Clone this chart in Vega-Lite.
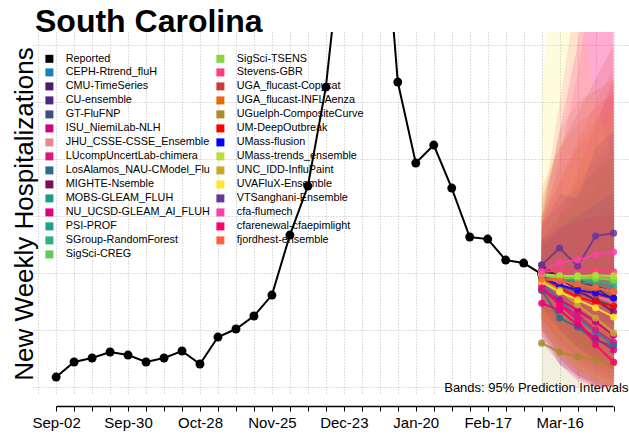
{
  "$schema": "https://vega.github.io/schema/vega-lite/v6.json",
  "width": 596,
  "height": 363,
  "autosize": {"type": "none"},
  "padding": {"left": 33, "top": 32, "right": 0, "bottom": 40},
  "background": "white",
  "title": {"text": "South Carolina", "anchor": "start", "frame": "group", "fontSize": 32, "fontWeight": "bold", "font": "Liberation Sans", "color": "black", "baseline": "alphabetic", "offset": -8, "dx": 2, "dy": 24},
  "config": {
    "view": {"stroke": null},
    "font": "Liberation Sans",
    "axis": {"labelFont": "Liberation Sans", "titleFont": "Liberation Sans"}
  },
  "datasets": {
    "reported": [
      {"model": "Reported", "date": "2023-09-02", "value": 17.5},
      {"model": "Reported", "date": "2023-09-09", "value": 43.9},
      {"model": "Reported", "date": "2023-09-16", "value": 50.9},
      {"model": "Reported", "date": "2023-09-23", "value": 61.4},
      {"model": "Reported", "date": "2023-09-30", "value": 56.1},
      {"model": "Reported", "date": "2023-10-07", "value": 43.9},
      {"model": "Reported", "date": "2023-10-14", "value": 50.9},
      {"model": "Reported", "date": "2023-10-21", "value": 63.2},
      {"model": "Reported", "date": "2023-10-28", "value": 40.4},
      {"model": "Reported", "date": "2023-11-04", "value": 87.7},
      {"model": "Reported", "date": "2023-11-11", "value": 101.8},
      {"model": "Reported", "date": "2023-11-18", "value": 124.6},
      {"model": "Reported", "date": "2023-11-25", "value": 161.4},
      {"model": "Reported", "date": "2023-12-02", "value": 266.7},
      {"model": "Reported", "date": "2023-12-09", "value": 352.6},
      {"model": "Reported", "date": "2023-12-16", "value": 526.3},
      {"model": "Reported", "date": "2023-12-23", "value": 815.8},
      {"model": "Reported", "date": "2023-12-30", "value": 1000},
      {"model": "Reported", "date": "2024-01-06", "value": 929.8},
      {"model": "Reported", "date": "2024-01-13", "value": 535.1},
      {"model": "Reported", "date": "2024-01-20", "value": 393},
      {"model": "Reported", "date": "2024-01-27", "value": 424.6},
      {"model": "Reported", "date": "2024-02-03", "value": 349.1},
      {"model": "Reported", "date": "2024-02-10", "value": 263.2},
      {"model": "Reported", "date": "2024-02-17", "value": 259.6},
      {"model": "Reported", "date": "2024-02-24", "value": 222.8},
      {"model": "Reported", "date": "2024-03-02", "value": 217.5},
      {"model": "Reported", "date": "2024-03-09", "value": 198.2}
    ],
    "forecast": [
      {"model": "CEPH-Rtrend_fluH", "date": "2024-03-09", "value": 184, "lo": 120, "hi": 260},
      {"model": "CEPH-Rtrend_fluH", "date": "2024-03-16", "value": 153, "lo": 80, "hi": 260},
      {"model": "CEPH-Rtrend_fluH", "date": "2024-03-23", "value": 121, "lo": 50, "hi": 260},
      {"model": "CEPH-Rtrend_fluH", "date": "2024-03-30", "value": 96, "lo": 30, "hi": 260},
      {"model": "CEPH-Rtrend_fluH", "date": "2024-04-06", "value": 74, "lo": 15, "hi": 270},
      {"model": "CMU-TimeSeries", "date": "2024-03-09", "value": 205, "lo": 160, "hi": 250},
      {"model": "CMU-TimeSeries", "date": "2024-03-16", "value": 195, "lo": 130, "hi": 270},
      {"model": "CMU-TimeSeries", "date": "2024-03-23", "value": 188, "lo": 110, "hi": 290},
      {"model": "CMU-TimeSeries", "date": "2024-03-30", "value": 174, "lo": 90, "hi": 300},
      {"model": "CMU-TimeSeries", "date": "2024-04-06", "value": 153, "lo": 70, "hi": 310},
      {"model": "CU-ensemble", "date": "2024-03-09", "value": 202, "lo": 150, "hi": 260},
      {"model": "CU-ensemble", "date": "2024-03-16", "value": 188, "lo": 120, "hi": 290},
      {"model": "CU-ensemble", "date": "2024-03-23", "value": 182, "lo": 100, "hi": 320},
      {"model": "CU-ensemble", "date": "2024-03-30", "value": 177, "lo": 80, "hi": 350},
      {"model": "CU-ensemble", "date": "2024-04-06", "value": 167, "lo": 60, "hi": 380},
      {"model": "GT-FluFNP", "date": "2024-03-09", "value": 195, "lo": 140, "hi": 250},
      {"model": "GT-FluFNP", "date": "2024-03-16", "value": 177, "lo": 110, "hi": 280},
      {"model": "GT-FluFNP", "date": "2024-03-23", "value": 167, "lo": 80, "hi": 300},
      {"model": "GT-FluFNP", "date": "2024-03-30", "value": 153, "lo": 60, "hi": 320},
      {"model": "GT-FluFNP", "date": "2024-04-06", "value": 142, "lo": 40, "hi": 340},
      {"model": "ISU_NiemiLab-NLH", "date": "2024-03-09", "value": 170, "lo": 110, "hi": 240},
      {"model": "ISU_NiemiLab-NLH", "date": "2024-03-16", "value": 153, "lo": 70, "hi": 260},
      {"model": "ISU_NiemiLab-NLH", "date": "2024-03-23", "value": 135, "lo": 40, "hi": 280},
      {"model": "ISU_NiemiLab-NLH", "date": "2024-03-30", "value": 114, "lo": 20, "hi": 300},
      {"model": "ISU_NiemiLab-NLH", "date": "2024-04-06", "value": 91, "lo": 10, "hi": 320},
      {"model": "JHU_CSSE-CSSE_Ensemble", "date": "2024-03-09", "value": 191, "lo": 100, "hi": 300},
      {"model": "JHU_CSSE-CSSE_Ensemble", "date": "2024-03-16", "value": 184, "lo": 60, "hi": 360},
      {"model": "JHU_CSSE-CSSE_Ensemble", "date": "2024-03-23", "value": 170, "lo": 30, "hi": 420},
      {"model": "JHU_CSSE-CSSE_Ensemble", "date": "2024-03-30", "value": 160, "lo": 10, "hi": 470},
      {"model": "JHU_CSSE-CSSE_Ensemble", "date": "2024-04-06", "value": 149, "lo": 0, "hi": 520},
      {"model": "LUcompUncertLab-chimera", "date": "2024-03-09", "value": 179, "lo": 110, "hi": 260},
      {"model": "LUcompUncertLab-chimera", "date": "2024-03-16", "value": 144, "lo": 50, "hi": 300},
      {"model": "LUcompUncertLab-chimera", "date": "2024-03-23", "value": 126, "lo": 20, "hi": 340},
      {"model": "LUcompUncertLab-chimera", "date": "2024-03-30", "value": 100, "lo": 5, "hi": 380},
      {"model": "LUcompUncertLab-chimera", "date": "2024-04-06", "value": 79, "lo": 0, "hi": 420},
      {"model": "LosAlamos_NAU-CModel_Flu", "date": "2024-03-09", "value": 170, "lo": 100, "hi": 250},
      {"model": "LosAlamos_NAU-CModel_Flu", "date": "2024-03-16", "value": 121, "lo": 40, "hi": 260},
      {"model": "LosAlamos_NAU-CModel_Flu", "date": "2024-03-23", "value": 105, "lo": 20, "hi": 270},
      {"model": "LosAlamos_NAU-CModel_Flu", "date": "2024-03-30", "value": 82, "lo": 5, "hi": 280},
      {"model": "LosAlamos_NAU-CModel_Flu", "date": "2024-04-06", "value": 72, "lo": 0, "hi": 290},
      {"model": "MIGHTE-Nsemble", "date": "2024-03-09", "value": 214, "lo": 150, "hi": 290},
      {"model": "MIGHTE-Nsemble", "date": "2024-03-16", "value": 191, "lo": 100, "hi": 320},
      {"model": "MIGHTE-Nsemble", "date": "2024-03-23", "value": 170, "lo": 70, "hi": 350},
      {"model": "MIGHTE-Nsemble", "date": "2024-03-30", "value": 153, "lo": 40, "hi": 380},
      {"model": "MIGHTE-Nsemble", "date": "2024-04-06", "value": 132, "lo": 20, "hi": 400},
      {"model": "MOBS-GLEAM_FLUH", "date": "2024-03-09", "value": 195, "lo": 120, "hi": 280},
      {"model": "MOBS-GLEAM_FLUH", "date": "2024-03-16", "value": 188, "lo": 90, "hi": 320},
      {"model": "MOBS-GLEAM_FLUH", "date": "2024-03-23", "value": 181, "lo": 60, "hi": 360},
      {"model": "MOBS-GLEAM_FLUH", "date": "2024-03-30", "value": 174, "lo": 40, "hi": 400},
      {"model": "MOBS-GLEAM_FLUH", "date": "2024-04-06", "value": 167, "lo": 20, "hi": 440},
      {"model": "NU_UCSD-GLEAM_AI_FLUH", "date": "2024-03-09", "value": 147, "lo": 80, "hi": 230},
      {"model": "NU_UCSD-GLEAM_AI_FLUH", "date": "2024-03-16", "value": 135, "lo": 40, "hi": 300},
      {"model": "NU_UCSD-GLEAM_AI_FLUH", "date": "2024-03-23", "value": 109, "lo": 15, "hi": 380},
      {"model": "NU_UCSD-GLEAM_AI_FLUH", "date": "2024-03-30", "value": 86, "lo": 0, "hi": 460},
      {"model": "NU_UCSD-GLEAM_AI_FLUH", "date": "2024-04-06", "value": 65, "lo": 0, "hi": 540},
      {"model": "PSI-PROF", "date": "2024-03-09", "value": 198, "lo": 150, "hi": 250},
      {"model": "PSI-PROF", "date": "2024-03-16", "value": 191, "lo": 120, "hi": 280},
      {"model": "PSI-PROF", "date": "2024-03-23", "value": 184, "lo": 100, "hi": 310},
      {"model": "PSI-PROF", "date": "2024-03-30", "value": 181, "lo": 80, "hi": 340},
      {"model": "PSI-PROF", "date": "2024-04-06", "value": 175, "lo": 60, "hi": 370},
      {"model": "SGroup-RandomForest", "date": "2024-03-09", "value": 196, "lo": 140, "hi": 260},
      {"model": "SGroup-RandomForest", "date": "2024-03-16", "value": 193, "lo": 110, "hi": 300},
      {"model": "SGroup-RandomForest", "date": "2024-03-23", "value": 189, "lo": 80, "hi": 340},
      {"model": "SGroup-RandomForest", "date": "2024-03-30", "value": 186, "lo": 60, "hi": 380},
      {"model": "SGroup-RandomForest", "date": "2024-04-06", "value": 182, "lo": 40, "hi": 420},
      {"model": "SigSci-CREG", "date": "2024-03-09", "value": 198, "lo": 150, "hi": 250},
      {"model": "SigSci-CREG", "date": "2024-03-16", "value": 195, "lo": 120, "hi": 290},
      {"model": "SigSci-CREG", "date": "2024-03-23", "value": 193, "lo": 100, "hi": 330},
      {"model": "SigSci-CREG", "date": "2024-03-30", "value": 193, "lo": 80, "hi": 360},
      {"model": "SigSci-CREG", "date": "2024-04-06", "value": 191, "lo": 60, "hi": 400},
      {"model": "SigSci-TSENS", "date": "2024-03-09", "value": 196, "lo": 140, "hi": 260},
      {"model": "SigSci-TSENS", "date": "2024-03-16", "value": 191, "lo": 100, "hi": 300},
      {"model": "SigSci-TSENS", "date": "2024-03-23", "value": 191, "lo": 70, "hi": 340},
      {"model": "SigSci-TSENS", "date": "2024-03-30", "value": 191, "lo": 50, "hi": 380},
      {"model": "SigSci-TSENS", "date": "2024-04-06", "value": 188, "lo": 30, "hi": 420},
      {"model": "Stevens-GBR", "date": "2024-03-09", "value": 202, "lo": 130, "hi": 300},
      {"model": "Stevens-GBR", "date": "2024-03-16", "value": 205, "lo": 90, "hi": 500},
      {"model": "Stevens-GBR", "date": "2024-03-23", "value": 209, "lo": 60, "hi": 700},
      {"model": "Stevens-GBR", "date": "2024-03-30", "value": 205, "lo": 40, "hi": 900},
      {"model": "Stevens-GBR", "date": "2024-04-06", "value": 202, "lo": 20, "hi": 1000},
      {"model": "UGA_flucast-Copycat", "date": "2024-03-09", "value": 193, "lo": 100, "hi": 330},
      {"model": "UGA_flucast-Copycat", "date": "2024-03-16", "value": 179, "lo": 60, "hi": 420},
      {"model": "UGA_flucast-Copycat", "date": "2024-03-23", "value": 170, "lo": 30, "hi": 480},
      {"model": "UGA_flucast-Copycat", "date": "2024-03-30", "value": 161, "lo": 10, "hi": 540},
      {"model": "UGA_flucast-Copycat", "date": "2024-04-06", "value": 156, "lo": 0, "hi": 600},
      {"model": "UGA_flucast-INFLAenza", "date": "2024-03-09", "value": 188, "lo": 90, "hi": 350},
      {"model": "UGA_flucast-INFLAenza", "date": "2024-03-16", "value": 191, "lo": 50, "hi": 420},
      {"model": "UGA_flucast-INFLAenza", "date": "2024-03-23", "value": 175, "lo": 20, "hi": 460},
      {"model": "UGA_flucast-INFLAenza", "date": "2024-03-30", "value": 174, "lo": 0, "hi": 490},
      {"model": "UGA_flucast-INFLAenza", "date": "2024-04-06", "value": 167, "lo": 0, "hi": 520},
      {"model": "UGuelph-CompositeCurve", "date": "2024-03-09", "value": 77, "lo": 0, "hi": 300},
      {"model": "UGuelph-CompositeCurve", "date": "2024-03-16", "value": 61, "lo": 0, "hi": 450},
      {"model": "UGuelph-CompositeCurve", "date": "2024-03-23", "value": 53, "lo": 0, "hi": 500},
      {"model": "UGuelph-CompositeCurve", "date": "2024-03-30", "value": 47, "lo": 0, "hi": 520},
      {"model": "UGuelph-CompositeCurve", "date": "2024-04-06", "value": 42, "lo": 0, "hi": 540},
      {"model": "UM-DeepOutbreak", "date": "2024-03-09", "value": 189, "lo": 130, "hi": 260},
      {"model": "UM-DeepOutbreak", "date": "2024-03-16", "value": 174, "lo": 100, "hi": 280},
      {"model": "UM-DeepOutbreak", "date": "2024-03-23", "value": 158, "lo": 70, "hi": 290},
      {"model": "UM-DeepOutbreak", "date": "2024-03-30", "value": 149, "lo": 50, "hi": 300},
      {"model": "UM-DeepOutbreak", "date": "2024-04-06", "value": 142, "lo": 30, "hi": 300},
      {"model": "UMass-flusion", "date": "2024-03-09", "value": 191, "lo": 140, "hi": 250},
      {"model": "UMass-flusion", "date": "2024-03-16", "value": 179, "lo": 100, "hi": 280},
      {"model": "UMass-flusion", "date": "2024-03-23", "value": 170, "lo": 70, "hi": 300},
      {"model": "UMass-flusion", "date": "2024-03-30", "value": 165, "lo": 50, "hi": 320},
      {"model": "UMass-flusion", "date": "2024-04-06", "value": 156, "lo": 30, "hi": 340},
      {"model": "UMass-trends_ensemble", "date": "2024-03-09", "value": 198, "lo": 130, "hi": 280},
      {"model": "UMass-trends_ensemble", "date": "2024-03-16", "value": 195, "lo": 90, "hi": 330},
      {"model": "UMass-trends_ensemble", "date": "2024-03-23", "value": 195, "lo": 60, "hi": 380},
      {"model": "UMass-trends_ensemble", "date": "2024-03-30", "value": 196, "lo": 40, "hi": 430},
      {"model": "UMass-trends_ensemble", "date": "2024-04-06", "value": 195, "lo": 20, "hi": 480},
      {"model": "UNC_IDD-InfluPaint", "date": "2024-03-09", "value": 188, "lo": 100, "hi": 300},
      {"model": "UNC_IDD-InfluPaint", "date": "2024-03-16", "value": 170, "lo": 60, "hi": 380},
      {"model": "UNC_IDD-InfluPaint", "date": "2024-03-23", "value": 144, "lo": 30, "hi": 420},
      {"model": "UNC_IDD-InfluPaint", "date": "2024-03-30", "value": 121, "lo": 10, "hi": 460},
      {"model": "UNC_IDD-InfluPaint", "date": "2024-04-06", "value": 95, "lo": 0, "hi": 500},
      {"model": "UVAFluX-Ensemble", "date": "2024-03-09", "value": 184, "lo": 110, "hi": 510},
      {"model": "UVAFluX-Ensemble", "date": "2024-03-16", "value": 167, "lo": 60, "hi": 950},
      {"model": "UVAFluX-Ensemble", "date": "2024-03-23", "value": 153, "lo": 30, "hi": 700},
      {"model": "UVAFluX-Ensemble", "date": "2024-03-30", "value": 139, "lo": 10, "hi": 500},
      {"model": "UVAFluX-Ensemble", "date": "2024-04-06", "value": 123, "lo": 0, "hi": 400},
      {"model": "VTSanghani-Ensemble", "date": "2024-03-09", "value": 214, "lo": 160, "hi": 280},
      {"model": "VTSanghani-Ensemble", "date": "2024-03-16", "value": 244, "lo": 150, "hi": 340},
      {"model": "VTSanghani-Ensemble", "date": "2024-03-23", "value": 212, "lo": 120, "hi": 330},
      {"model": "VTSanghani-Ensemble", "date": "2024-03-30", "value": 265, "lo": 120, "hi": 420},
      {"model": "VTSanghani-Ensemble", "date": "2024-04-06", "value": 270, "lo": 110, "hi": 450},
      {"model": "cfa-flumech", "date": "2024-03-09", "value": 202, "lo": 140, "hi": 280},
      {"model": "cfa-flumech", "date": "2024-03-16", "value": 219, "lo": 130, "hi": 400},
      {"model": "cfa-flumech", "date": "2024-03-23", "value": 223, "lo": 120, "hi": 550},
      {"model": "cfa-flumech", "date": "2024-03-30", "value": 232, "lo": 110, "hi": 750},
      {"model": "cfa-flumech", "date": "2024-04-06", "value": 237, "lo": 100, "hi": 950},
      {"model": "cfarenewal-cfaepimlight", "date": "2024-03-09", "value": 174, "lo": 90, "hi": 290},
      {"model": "cfarenewal-cfaepimlight", "date": "2024-03-16", "value": 144, "lo": 40, "hi": 450},
      {"model": "cfarenewal-cfaepimlight", "date": "2024-03-23", "value": 118, "lo": 10, "hi": 600},
      {"model": "cfarenewal-cfaepimlight", "date": "2024-03-30", "value": 74, "lo": 0, "hi": 800},
      {"model": "cfarenewal-cfaepimlight", "date": "2024-04-06", "value": 44, "lo": 0, "hi": 1000},
      {"model": "fjordhest-ensemble", "date": "2024-03-09", "value": 189, "lo": 120, "hi": 290},
      {"model": "fjordhest-ensemble", "date": "2024-03-16", "value": 186, "lo": 80, "hi": 360},
      {"model": "fjordhest-ensemble", "date": "2024-03-23", "value": 181, "lo": 50, "hi": 430},
      {"model": "fjordhest-ensemble", "date": "2024-03-30", "value": 174, "lo": 30, "hi": 500},
      {"model": "fjordhest-ensemble", "date": "2024-04-06", "value": 168, "lo": 10, "hi": 560}
    ]
  },
  "layer": [
    {
      "data": {"name": "forecast"},
      "mark": {"type": "area", "fillOpacity": 0.15, "clip": true, "interpolate": "linear"},
      "encoding": {
        "x": {
          "field": "date", "type": "temporal",
          "scale": {"type": "utc", "domain": [1692835200000, 1712880000000], "nice": false},
          "axis": {
            "orient": "bottom", "grid": true, "gridDash": [1, 2], "gridColor": "#bdbdbd", "gridWidth": 1,
            "domain": false, "ticks": false, "labels": false, "title": null,
            "values": [1693008000000, 1693612800000, 1694217600000, 1694822400000, 1695427200000, 1696032000000, 1696636800000, 1697241600000, 1697846400000, 1698451200000, 1699056000000, 1699660800000, 1700265600000, 1700870400000, 1701475200000, 1702080000000, 1702684800000, 1703289600000, 1703894400000, 1704499200000, 1705104000000, 1705708800000, 1706313600000, 1706918400000, 1707523200000, 1708128000000, 1708732800000, 1709337600000, 1709942400000, 1710547200000, 1711152000000, 1711756800000, 1712361600000]
          }
        },
        "y": {
          "field": "lo", "type": "quantitative",
          "scale": {"domain": [-14, 623], "nice": false, "zero": false},
          "axis": {
            "grid": true, "gridDash": [1, 2], "gridColor": "#bdbdbd", "gridWidth": 1,
            "domain": false, "ticks": false, "labels": false,
            "values": [0, 100, 200, 300, 400, 500, 600],
            "title": "New Weekly Hospitalizations", "titleFontSize": 26, "titleFontWeight": "normal",
            "titleColor": "black", "titleBaseline": "alphabetic", "titlePadding": 1
          }
        },
        "y2": {"field": "hi"},
        "color": {
          "field": "model", "type": "nominal",
          "scale": {
            "domain": ["Reported", "CEPH-Rtrend_fluH", "CMU-TimeSeries", "CU-ensemble", "GT-FluFNP", "ISU_NiemiLab-NLH", "JHU_CSSE-CSSE_Ensemble", "LUcompUncertLab-chimera", "LosAlamos_NAU-CModel_Flu", "MIGHTE-Nsemble", "MOBS-GLEAM_FLUH", "NU_UCSD-GLEAM_AI_FLUH", "PSI-PROF", "SGroup-RandomForest", "SigSci-CREG", "SigSci-TSENS", "Stevens-GBR", "UGA_flucast-Copycat", "UGA_flucast-INFLAenza", "UGuelph-CompositeCurve", "UM-DeepOutbreak", "UMass-flusion", "UMass-trends_ensemble", "UNC_IDD-InfluPaint", "UVAFluX-Ensemble", "VTSanghani-Ensemble", "cfa-flumech", "cfarenewal-cfaepimlight", "fjordhest-ensemble"],
            "range": ["#000000", "#1a80bb", "#4a1a6e", "#4b2a80", "#3b4f8a", "#d0007f", "#e8878f", "#e0157a", "#2e6b8e", "#7a0f56", "#1e9a8a", "#e0007f", "#21a08a", "#2db37a", "#5fcc5a", "#86d640", "#ff3d7f", "#cc3b3b", "#e8680e", "#a88a2f", "#ff0000", "#0000ff", "#b5e03a", "#c9a82a", "#ffe62a", "#6a359a", "#ff40a8", "#ff0070", "#ff6040"]
          },
          "legend": {
            "orient": "none", "legendX": 11, "legendY": 21, "columns": 2, "title": null,
            "symbolType": "square", "symbolSize": 64, "symbolOpacity": 1, "symbolStrokeWidth": 0,
            "labelFontSize": 10.8, "labelFont": "Liberation Sans", "labelColor": "black",
            "labelOffset": 11, "rowPadding": 2, "columnPadding": 5, "labelLimit": 0, "padding": 0,
            "zindex": 0
          }
        }
      }
    },
    {
      "data": {"name": "reported"},
      "mark": {"type": "line", "strokeWidth": 2, "clip": true},
      "encoding": {
        "x": {
          "field": "date", "type": "temporal",
          "axis": {
            "orient": "bottom", "grid": false,
            "values": [1693612800000, 1694217600000, 1694822400000, 1695427200000, 1696032000000, 1696636800000, 1697241600000, 1697846400000, 1698451200000, 1699056000000, 1699660800000, 1700265600000, 1700870400000, 1701475200000, 1702080000000, 1702684800000, 1703289600000, 1703894400000, 1704499200000, 1705104000000, 1705708800000, 1706313600000, 1706918400000, 1707523200000, 1708128000000, 1708732800000, 1709337600000, 1709942400000, 1710547200000, 1711152000000, 1711756800000, 1712361600000],
            "labelExpr": "(round((datum.value - 1693612800000) / 604800000) % 4 == 0) ? utcFormat(datum.value, '%b-%d') : ''",
            "offset": 11, "domainColor": "black", "domainWidth": 1.5, "domainDash": [0, 23, 557, 100],
            "tickColor": "black", "tickSize": 5, "tickWidth": 1,
            "labelFontSize": 15, "labelColor": "black", "labelPadding": 4, "labelOverlap": false, "labelFlush": false,
            "title": "Bands: 95% Prediction Intervals", "titleAnchor": "end", "titleAlign": "right",
            "titleX": 595, "titleY": -15, "titleFontSize": 13, "titleFontWeight": "normal",
            "titleBaseline": "alphabetic", "titleColor": "black"
          }
        },
        "y": {
          "field": "value", "type": "quantitative",
          "axis": {
            "grid": true, "gridDash": [1, 2], "gridColor": "#bdbdbd", "gridWidth": 1,
            "domain": false, "ticks": false, "labels": false,
            "values": [0, 100, 200, 300, 400, 500, 600],
            "title": "New Weekly Hospitalizations", "titleFontSize": 26, "titleFontWeight": "normal",
            "titleColor": "black", "titleBaseline": "alphabetic", "titlePadding": 1
          }
        },
        "color": {"field": "model", "type": "nominal", "legend": null}
      }
    },
    {
      "data": {"name": "reported"},
      "mark": {"type": "point", "filled": true, "size": 80, "opacity": 1, "clip": true},
      "encoding": {
        "x": {"field": "date", "type": "temporal", "axis": null},
        "y": {
          "field": "value", "type": "quantitative",
          "axis": {
            "grid": true, "gridDash": [1, 2], "gridColor": "#bdbdbd", "gridWidth": 1,
            "domain": false, "ticks": false, "labels": false,
            "values": [0, 100, 200, 300, 400, 500, 600],
            "title": "New Weekly Hospitalizations", "titleFontSize": 26, "titleFontWeight": "normal",
            "titleColor": "black", "titleBaseline": "alphabetic", "titlePadding": 1
          }
        },
        "color": {"field": "model", "type": "nominal", "legend": null}
      }
    },
    {
      "data": {"name": "forecast"},
      "mark": {"type": "line", "strokeWidth": 2, "opacity": 0.85, "clip": true},
      "encoding": {
        "x": {"field": "date", "type": "temporal", "axis": null},
        "y": {
          "field": "value", "type": "quantitative",
          "axis": {
            "grid": true, "gridDash": [1, 2], "gridColor": "#bdbdbd", "gridWidth": 1,
            "domain": false, "ticks": false, "labels": false,
            "values": [0, 100, 200, 300, 400, 500, 600],
            "title": "New Weekly Hospitalizations", "titleFontSize": 26, "titleFontWeight": "normal",
            "titleColor": "black", "titleBaseline": "alphabetic", "titlePadding": 1
          }
        },
        "color": {"field": "model", "type": "nominal", "legend": null}
      }
    },
    {
      "data": {"name": "forecast"},
      "mark": {"type": "point", "filled": true, "size": 50, "opacity": 0.85, "clip": true},
      "encoding": {
        "x": {"field": "date", "type": "temporal", "axis": null},
        "y": {
          "field": "value", "type": "quantitative",
          "axis": {
            "grid": true, "gridDash": [1, 2], "gridColor": "#bdbdbd", "gridWidth": 1,
            "domain": false, "ticks": false, "labels": false,
            "values": [0, 100, 200, 300, 400, 500, 600],
            "title": "New Weekly Hospitalizations", "titleFontSize": 26, "titleFontWeight": "normal",
            "titleColor": "black", "titleBaseline": "alphabetic", "titlePadding": 1
          }
        },
        "color": {"field": "model", "type": "nominal", "legend": null}
      }
    }
  ],
  "resolve": {"axis": {"x": "independent"}}
}
